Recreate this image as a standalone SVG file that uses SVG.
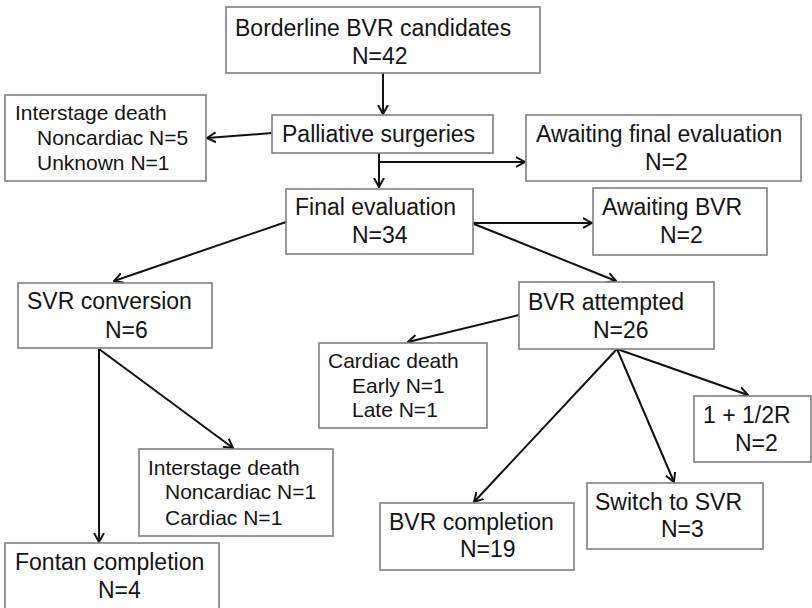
<svg xmlns="http://www.w3.org/2000/svg" width="812" height="608" viewBox="0 0 812 608">
  <style>
    .box { fill: #ffffff; stroke: #808080; stroke-width: 1.6; }
    .t { font-family: "Liberation Sans", Arial, sans-serif; font-size: 23px; fill: #141414; }
    .s { font-size: 21px; }
    .edge { fill: none; stroke: #111111; stroke-width: 2; }
  </style>
  <defs>
    <marker id="arrow" viewBox="0 0 10 12" refX="9" refY="6" markerWidth="10" markerHeight="12" markerUnits="userSpaceOnUse" orient="auto">
      <path d="M0,1 L9,6 L0,11" fill="none" stroke="#111111" stroke-width="2"/>
    </marker>
  </defs>
  <rect width="812" height="608" fill="#ffffff"/>

  <!-- connectors -->
  <g id="connectors" class="edge">
    <line x1="383" y1="73" x2="383" y2="114" marker-end="url(#arrow)"/>
    <line x1="272" y1="133" x2="207" y2="138" marker-end="url(#arrow)"/>
    <line x1="379" y1="153" x2="379" y2="187" marker-end="url(#arrow)"/>
    <line x1="379" y1="162" x2="525" y2="162" marker-end="url(#arrow)"/>
    <line x1="473" y1="223" x2="592" y2="223" marker-end="url(#arrow)"/>
    <line x1="286" y1="222" x2="114" y2="281" marker-end="url(#arrow)"/>
    <line x1="474" y1="224" x2="616" y2="281" marker-end="url(#arrow)"/>
    <line x1="519" y1="315" x2="408" y2="342" marker-end="url(#arrow)"/>
    <line x1="99" y1="349" x2="99" y2="542" marker-end="url(#arrow)"/>
    <line x1="99" y1="349" x2="233" y2="448" marker-end="url(#arrow)"/>
    <line x1="617" y1="349" x2="748" y2="395" marker-end="url(#arrow)"/>
    <line x1="617" y1="349" x2="674" y2="482" marker-end="url(#arrow)"/>
    <line x1="617" y1="349" x2="474" y2="502" marker-end="url(#arrow)"/>
  </g>

  <g id="borderline">
    <rect class="box" x="226" y="7" width="314" height="66"/>
    <text class="t" x="235" y="36">Borderline BVR candidates</text>
    <text class="t" x="352" y="64">N=42</text>
  </g>

  <g id="palliative">
    <rect class="box" x="272" y="115" width="221" height="38"/>
    <text class="t" x="282" y="142">Palliative surgeries</text>
  </g>

  <g id="interstage-death-1">
    <rect class="box" x="5" y="95" width="201" height="86"/>
    <text class="t s" x="15" y="120">Interstage death</text>
    <text class="t s" x="37" y="145">Noncardiac N=5</text>
    <text class="t s" x="37" y="170">Unknown N=1</text>
  </g>

  <g id="awaiting-final">
    <rect class="box" x="526" y="115" width="275" height="66"/>
    <text class="t" x="536" y="142">Awaiting final evaluation</text>
    <text class="t" x="645" y="170">N=2</text>
  </g>

  <g id="final-evaluation">
    <rect class="box" x="286" y="189" width="187" height="65"/>
    <text class="t" x="295" y="215">Final evaluation</text>
    <text class="t" x="352" y="243">N=34</text>
  </g>

  <g id="awaiting-bvr">
    <rect class="box" x="593" y="188" width="174" height="67"/>
    <text class="t" x="602" y="215">Awaiting BVR</text>
    <text class="t" x="660" y="243">N=2</text>
  </g>

  <g id="svr-conversion">
    <rect class="box" x="18" y="283" width="194" height="65"/>
    <text class="t" x="27" y="309">SVR conversion</text>
    <text class="t" x="105" y="338">N=6</text>
  </g>

  <g id="bvr-attempted">
    <rect class="box" x="519" y="282" width="195" height="67"/>
    <text class="t" x="528" y="310">BVR attempted</text>
    <text class="t" x="593" y="338">N=26</text>
  </g>

  <g id="cardiac-death">
    <rect class="box" x="319" y="343" width="168" height="85"/>
    <text class="t s" x="328" y="368">Cardiac death</text>
    <text class="t s" x="352" y="393">Early N=1</text>
    <text class="t s" x="352" y="417">Late N=1</text>
  </g>

  <g id="one-and-half">
    <rect class="box" x="694" y="396" width="117" height="66"/>
    <text class="t" x="703" y="423">1 + 1/2R</text>
    <text class="t" x="735" y="451">N=2</text>
  </g>

  <g id="interstage-death-2">
    <rect class="box" x="139" y="449" width="194" height="87"/>
    <text class="t s" x="148" y="475">Interstage death</text>
    <text class="t s" x="165" y="499">Noncardiac N=1</text>
    <text class="t s" x="165" y="525">Cardiac N=1</text>
  </g>

  <g id="switch-svr">
    <rect class="box" x="587" y="483" width="176" height="66"/>
    <text class="t" x="595" y="510">Switch to SVR</text>
    <text class="t" x="661" y="537">N=3</text>
  </g>

  <g id="bvr-completion">
    <rect class="box" x="380" y="503" width="194" height="67"/>
    <text class="t" x="389" y="530">BVR completion</text>
    <text class="t" x="460" y="557">N=19</text>
  </g>

  <g id="fontan">
    <rect class="box" x="5" y="543" width="214" height="72"/>
    <text class="t" x="15" y="570">Fontan completion</text>
    <text class="t" x="98" y="598">N=4</text>
  </g>
</svg>
